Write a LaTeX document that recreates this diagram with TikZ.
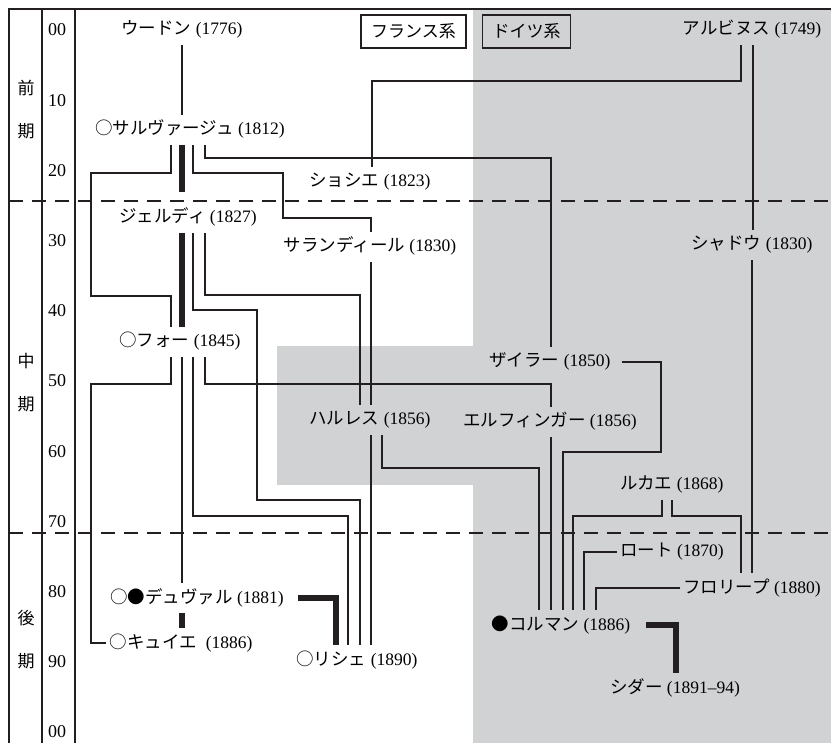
\documentclass[tikz,border=0pt]{standalone}
\usepackage{fontspec}
\setmainfont{Liberation Serif}
\newfontfamily\jp{Noto Sans CJK JP}
\usetikzlibrary{calc}
\definecolor{ink}{HTML}{231F20}
\definecolor{paper}{HTML}{D1D2D4}
\newcommand{\nm}[2]{{\jp #1} (#2)}

\begin{document}
\begin{tikzpicture}[x=1pt, y=-1pt,
  link/.style={draw=ink, line width=1.7pt},
  bar/.style={draw=ink, line width=6pt},
  who/.style={font=\fontsize{17.5}{20}\selectfont, inner xsep=3pt, inner ysep=7pt, text height=13pt, text depth=3pt},
  key/.style={draw=ink, line width=1.8pt, font=\jp\fontsize{17}{20}\selectfont, minimum height=33pt, inner xsep=10pt},
  era/.style={font=\jp\fontsize{17}{43}\selectfont, align=center}]
  \useasboundingbox (0,0) rectangle (831,743);
  \fill[paper] (473,9) rectangle (831,743);
  \fill[paper] (277,346) rectangle (473,485);
  \foreach \y in {201,533}
    \draw[ink, line width=1.6pt, dash pattern=on 14pt off 9pt] (9,\y) -- (831,\y);
  \draw[ink, line width=2pt] (9,743) -- (9,9) -- (831,9);
  \draw[ink, line width=1.6pt] (42,9) -- (42,743) (75,9) -- (75,743);
  \foreach \d [count=\i from 0] in {00,10,20,30,40,50,60,70,80,90,00}
    \node[font=\fontsize{18}{20}\selectfont] (dec\i) at (57,{30+70.2*\i}) {\d};
  \node[era] (early) at (26,110) {前\\期};
  \node[era] (mid) at (26,383) {中\\期};
  \node[era] (late) at (26,640) {後\\期};

  \node[key, fill=white] (fr) at (413.5,31.5) {フランス系};
  \node[key, fill=paper] (de) at (526.5,31.5) {ドイツ系};

  \node[who] (wood) at (182,30) {\nm{ウードン}{1776}};
  \node[who] (albi) at (752,30) {\nm{アルビヌス}{1749}};
  \node[who] (salv) at (190,130) {\nm{○サルヴァージュ}{1812}};
  \node[who] (chau) at (370,182) {\nm{ショシエ}{1823}};
  \node[who] (gerd) at (188,218) {\nm{ジェルディ}{1827}};
  \node[who] (sara) at (370,247) {\nm{サランディール}{1830}};
  \node[who] (scha) at (752,245) {\nm{シャドウ}{1830}};
  \node[who] (faur) at (180,342) {\nm{○フォー}{1845}};
  \node[who] (zeil) at (550,362) {\nm{ザイラー}{1850}};
  \node[who] (harl) at (370,420) {\nm{ハルレス}{1856}};
  \node[who] (elfi) at (550,422) {\nm{エルフィンガー}{1856}};
  \node[who] (luca) at (672,485) {\nm{ルカエ}{1868}};
  \node[who] (roth) at (672,552) {\nm{ロート}{1870}};
  \node[who] (frol) at (752,588) {\nm{フロリープ}{1880}};
  \node[who] (duva) at (197,598) {\nm{○●デュヴァル}{1881}};
  \node[who] (cuye) at (181,643) {{\jp ○キュイエ}\hspace{9pt}(1886)};
  \node[who] (rich) at (357,660) {\nm{○リシェ}{1890}};
  \node[who] (kolm) at (561,625) {\nm{●コルマン}{1886}};
  \node[who] (cede) at (675,688) {\nm{シダー}{1891–94}};

  % early lines
  \draw[link] (wood.south) -- (182,0 |- salv.north);
  \draw[link] (741,0 |- albi.south) |- (372,81) -- (372,0 |- chau.north);
  \draw[link] (753,0 |- albi.south) -- (753,0 |- scha.north);
  \draw[link] (171,0 |- salv.south) |- (91,173) |- (171,296) -- (171,0 |- faur.north);
  \draw[bar, shorten >=11pt] (182,0 |- salv.south) -- (182,0 |- gerd.north);
  \draw[link] (193,0 |- salv.south) |- (283,173) |- (371,218) -- (371,0 |- sara.north);
  \draw[link] (205,0 |- salv.south) |- (551,158) -- (551,0 |- zeil.north);

  % middle lines
  \draw[bar] (182,0 |- gerd.south) -- (182,0 |- faur.north);
  \draw[link] (193,0 |- gerd.south) |- (257,310) |- (360,500) -- (360,0 |- rich.north);
  \draw[link] (205,0 |- gerd.south) |- (360,295) -- (360,0 |- harl.north);
  \draw[link] (371,0 |- sara.south) -- (371,0 |- harl.north);
  \draw[link] (752,0 |- scha.south) -- (752,0 |- frol.north);
  \draw[link] (171,0 |- faur.south) |- (91,384) |- (cuye.west);
  \draw[link] (182,0 |- faur.south) -- (182,0 |- duva.north);
  \draw[link] (193,0 |- faur.south) |- (348,516) -- (348,0 |- rich.north);
  \draw[link] (205,0 |- faur.south) |- (551,384) -- (551,0 |- elfi.north);
  \draw[link, shorten <=8pt] (zeil.east) -| (661,452) -| (563,0 |- kolm.north);
  \draw[link] (551,0 |- elfi.south) -- (551,0 |- kolm.north);
  \draw[link] (382,0 |- harl.south) |- (539,468) -- (539,0 |- kolm.north);
  \draw[link] (371,0 |- harl.south) -- (371,0 |- rich.north);

  % late lines
  \draw[link] (662,0 |- luca.south) |- (573,516) -- (573,0 |- kolm.north);
  \draw[link] (672,0 |- luca.south) |- (741,516) -- (741,0 |- frol.north);
  \draw[link] (roth.west) -| (584,0 |- kolm.north);
  \draw[link] (frol.west) -| (596,0 |- kolm.north);
  \draw[bar, shorten <=11pt] (duva.east) -| (336,0 |- rich.north);
  \draw[bar] (182,0 |- duva.south) -- (182,0 |- cuye.north);
  \draw[bar, shorten <=13pt] (kolm.east) -| (676,0 |- cede.north);
\end{tikzpicture}
\end{document}
